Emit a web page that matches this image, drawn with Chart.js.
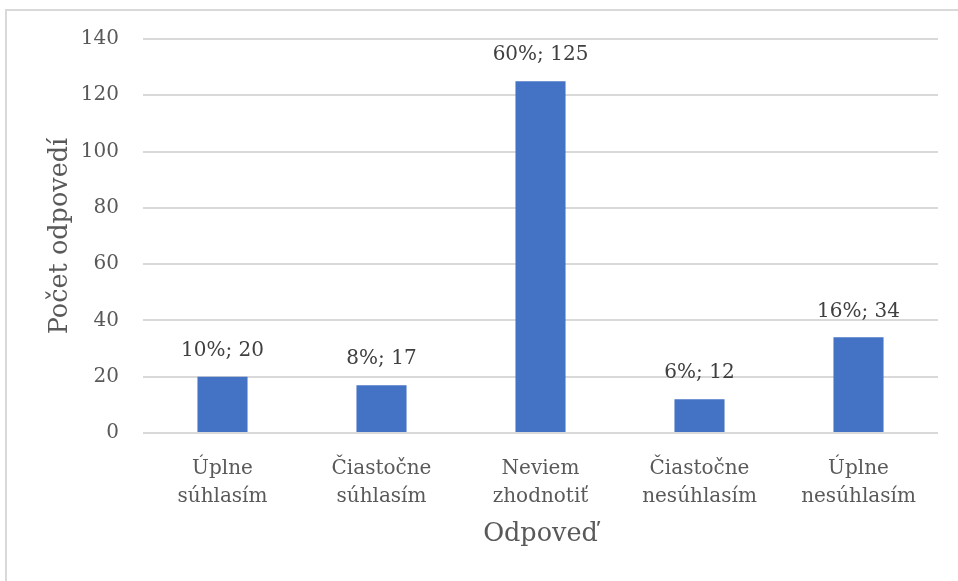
<!DOCTYPE html>
<html>
<head>
<meta charset="utf-8">
<script src="https://cdn.jsdelivr.net/npm/chart.js@4.4.1/dist/chart.umd.min.js"></script>
<style>
  html, body { margin: 0; padding: 0; background: #fff; overflow: hidden; }
  #frame { position: absolute; left: 5px; top: 9px; width: 1000px; height: 700px;
           border-left: 2px solid #d9d9d9; border-top: 2px solid #d9d9d9; }
  #wrap { position: absolute; left: 0; top: 0; width: 958px; height: 581px; }
</style>
</head>
<body>
<div id="frame"></div>
<div id="wrap"><canvas id="chart" width="958" height="581"></canvas></div>
<script>
// data
const categories = [
  ['Úplne', 'súhlasím'],
  ['Čiastočne', 'súhlasím'],
  ['Neviem', 'zhodnotiť'],
  ['Čiastočne', 'nesúhlasím'],
  ['Úplne', 'nesúhlasím']
]
const counts = [20, 17, 125, 12, 34]
const percents = [10, 8, 60, 6, 16]
const yTicks = [0, 20, 40, 60, 80, 100, 120, 140]

const FONT = "'DejaVu Serif', serif"
const TEXT = '#595959'

// labels like "10%; 20" above each bar
const barLabels = {
  id: 'barLabels',
  afterDatasetsDraw(chart) {
    const ctx = chart.ctx
    const meta = chart.getDatasetMeta(0)
    ctx.save()
    ctx.font = '20px ' + FONT
    ctx.fillStyle = '#404040'
    ctx.textAlign = 'center'
    ctx.textBaseline = 'middle'
    meta.data.forEach((bar, i) => {
      ctx.fillText(percents[i] + '%; ' + counts[i], bar.x, bar.y - 26)
    })
    ctx.restore()
  }
}

new Chart(document.getElementById('chart').getContext('2d'), {
  type: 'bar',
  data: {
    labels: categories,
    datasets: [{
      label: 'Počet odpovedí',
      data: counts,
      backgroundColor: '#4472c4',
      barPercentage: 0.315,
      categoryPercentage: 1
    }]
  },
  options: {
    responsive: false,
    animation: false,
    devicePixelRatio: 1,
    layout: { padding: { left: 0, right: 20, top: 39, bottom: 0 } },
    plugins: {
      legend: { display: false },
      tooltip: { enabled: false }
    },
    scales: {
      x: {
        afterFit: (scale) => { scale.height = 148 },
        grid: { display: false, drawTicks: false },
        border: { display: false },
        ticks: {
          color: TEXT,
          padding: 22,
          maxRotation: 0,
          autoSkip: false,
          font: { family: FONT, size: 20, lineHeight: 1.4 }
        },
        title: {
          display: true,
          text: 'Odpoveď',
          color: TEXT,
          padding: { top: 0, bottom: 31 },
          font: { family: FONT, size: 25.5, lineHeight: 1.2 }
        }
      },
      y: {
        min: 0,
        max: 140,
        afterFit: (scale) => { scale.width = 143 },
        afterBuildTicks: (scale) => { scale.ticks = yTicks.map(v => ({ value: v })) },
        grid: { color: '#d9d9d9', lineWidth: 2, drawTicks: false },
        border: { display: false },
        ticks: {
          color: TEXT,
          padding: 24,
          font: { family: FONT, size: 20 }
        },
        title: {
          display: true,
          text: 'Počet odpovedí',
          color: TEXT,
          padding: { top: 45, bottom: 0 },
          font: { family: FONT, size: 25.5, lineHeight: 1.2 }
        }
      }
    }
  },
  plugins: [barLabels]
})
</script>
</body>
</html>
